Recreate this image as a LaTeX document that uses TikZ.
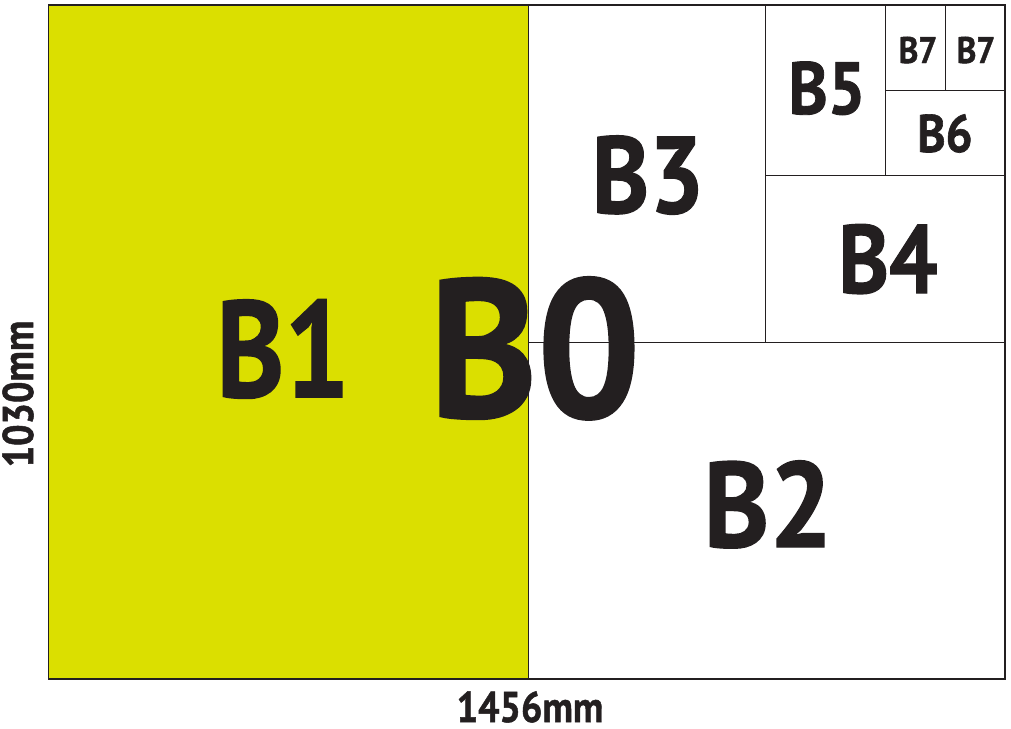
\documentclass[tikz,border=0pt]{standalone}
\usepackage{fontspec}
\setmainfont{PT Sans}[BoldFeatures={FakeBold=1.2}]
\definecolor{ink}{HTML}{231F20}
\definecolor{lime}{HTML}{DBDF00}
\tikzset{
  sheet/.style={draw=ink, line width=1pt},
  lbl/.style={anchor=base, inner sep=0pt, text=ink, font=\bfseries},
}
\newcommand{\sqz}[2]{\scalebox{#1}[1]{#2}}
\begin{document}
\begin{tikzpicture}[x=1pt,y=-1pt]
\useasboundingbox (0,0) rectangle (1011,728);
\fill[lime] (48.5,5) rectangle (528,679);
\draw[sheet] (528,342) -- (1005,342);
\draw[sheet] (765,5) -- (765,342);
\draw[sheet] (765,175) -- (1005,175);
\draw[sheet] (885,5) -- (885,175);
\draw[sheet] (885,90) -- (1005,90);
\draw[sheet] (945,5) -- (945,90);
\draw[sheet] (528,5) -- (528,679);
\draw[sheet, line width=1.3pt] (48.5,5) rectangle (1005,679);
\node[lbl, font=\bfseries\fontsize{137}{137}\selectfont] (b1) at (283,397) {\sqz{0.84}{B1}};
\node[lbl, font=\bfseries\fontsize{121}{121}\selectfont] (b2) at (768,547) {\sqz{0.92}{B2}};
\node[lbl, font=\bfseries\fontsize{109}{109}\selectfont] (b3) at (648,213) {\sqz{0.89}{B3}};
\node[lbl, font=\bfseries\fontsize{97}{97}\selectfont] (b4) at (888,293) {\sqz{0.88}{B4}};
\node[lbl, font=\bfseries\fontsize{74}{74}\selectfont] (b5) at (827,114) {\sqz{0.9}{B5}};
\node[lbl, font=\bfseries\fontsize{53}{53}\selectfont] (b6) at (945,152) {\sqz{0.9}{B6}};
\node[lbl, font=\bfseries\fontsize{37}{37}\selectfont] (b7a) at (918,63) {\sqz{0.9}{B7}};
\node[lbl, font=\bfseries\fontsize{37}{37}\selectfont] (b7b) at (976,63) {\sqz{0.9}{B7}};
\node[lbl, font=\bfseries\fontsize{196}{196}\selectfont] (b0) at (535,417) {\sqz{0.93}{B0}};
\node[lbl, font=\bfseries\fontsize{43}{43}\selectfont] (w) at (530,722) {\sqz{0.88}{1456mm}};
\node[lbl, font=\bfseries\fontsize{43}{43}\selectfont, rotate=90] (h) at (33,394) {\sqz{0.88}{1030mm}};
\end{tikzpicture}
\end{document}
